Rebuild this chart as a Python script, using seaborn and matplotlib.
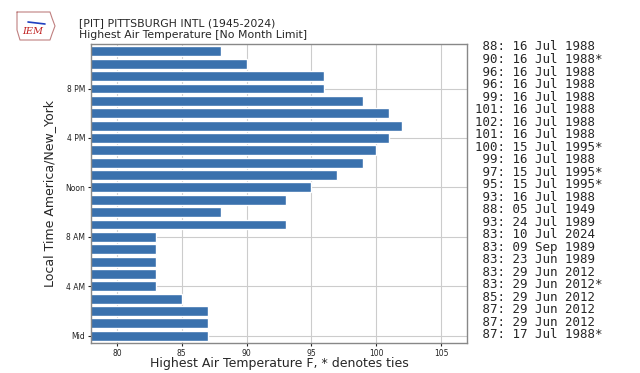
import matplotlib
matplotlib.use("Agg")
import matplotlib.pyplot as plt
import seaborn as sns
import pandas as pd

hours = list(range(24))
temps = [87, 87, 87, 85, 83, 83, 83, 83, 83, 93, 88, 93,
         95, 97, 99, 100, 101, 102, 101, 99, 96, 96, 90, 88]
dates = ["17 Jul 1988*", "29 Jun 2012", "29 Jun 2012", "29 Jun 2012",
         "29 Jun 2012*", "29 Jun 2012", "23 Jun 1989", "09 Sep 1989",
         "10 Jul 2024", "24 Jul 1989", "05 Jul 1949", "16 Jul 1988",
         "15 Jul 1995*", "15 Jul 1995*", "16 Jul 1988", "15 Jul 1995*",
         "16 Jul 1988", "16 Jul 1988", "16 Jul 1988", "16 Jul 1988",
         "16 Jul 1988", "16 Jul 1988", "16 Jul 1988*", "16 Jul 1988"]
ytick_pos = [0, 4, 8, 12, 16, 20]
ytick_labels = ["Mid", "4 AM", "8 AM", "Noon", "4 PM", "8 PM"]
xticks = [80, 85, 90, 95, 100, 105]

sns.set_style("whitegrid")
df = pd.DataFrame({"hour": hours, "temp": temps})

fig = plt.figure(figsize=(6.4, 3.73), dpi=100)
ax = fig.add_axes([0.142, 0.080, 0.588, 0.802])
sns.barplot(data=df, x="temp", y="hour", orient="h", native_scale=True,
            color="#3a71ad", saturation=1, ax=ax, width=0.8)
ax.set_xlim(min(temps) - 5, max(temps) + 5)
ax.set_ylim(-0.6, 23.6)
ax.set_yticks(ytick_pos)
ax.set_yticklabels(ytick_labels)
ax.set_xticks(xticks)
ax.tick_params(axis="both", labelsize=5.5, length=2.5, pad=1.5, left=True, bottom=True,
               labelcolor="#222222")
ax.grid(True, color="#cccccc", linewidth=0.8)
ax.set_axisbelow(True)
for s in ax.spines.values():
    s.set_color("#888888")
    s.set_linewidth(1.0)
ax.set_ylabel("Local Time America/New_York", fontsize=9)
ax.set_xlabel("Highest Air Temperature F, * denotes ties", fontsize=9)
ax.yaxis.set_label_coords(-0.093, 0.5)
ax.xaxis.set_label_coords(0.5, -0.047)

top_y = 1 - 47 / 373.0
bot_y = 1 - 335 / 373.0
for h, t, d in zip(hours, temps, dates):
    yy = bot_y + (top_y - bot_y) * h / 23.0
    fig.text(0.742, yy, "%3.0f: %s" % (t, d),
             family="DejaVu Sans Mono", fontsize=9, va="center", ha="left")

fig.text(0.123, 0.938, "[PIT] PITTSBURGH INTL (1945-2024)", fontsize=7.8, va="center")
fig.text(0.123, 0.906, "Highest Air Temperature [No Month Limit]", fontsize=7.8, va="center")

# simple logo
lx = [17, 50, 52, 55, 52, 50, 20, 17, 17]
ly = [12, 12, 18, 26, 34, 40, 40, 30, 12]
fig.add_artist(plt.Line2D([x / 640 for x in lx], [1 - y / 373 for y in ly],
                          color="#c08080", linewidth=0.8, transform=fig.transFigure))
fig.add_artist(plt.Line2D([28 / 640, 45 / 640], [1 - 22 / 373, 1 - 24 / 373],
                          color="#2040c0", linewidth=1.2, transform=fig.transFigure))
fig.text(33 / 640, 1 - 32 / 373, "IEM", fontsize=7, color="#c02020", style="italic",
         family="DejaVu Serif", ha="center", va="center")

fig.savefig("out.png", dpi=100)
